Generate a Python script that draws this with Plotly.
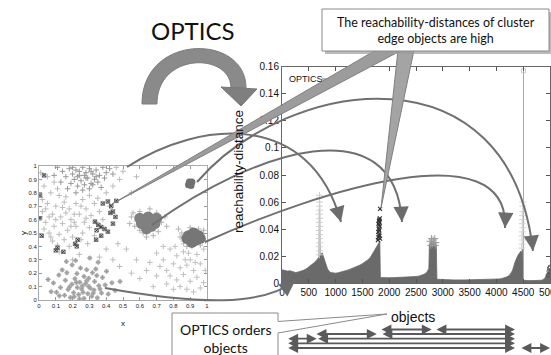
import plotly.graph_objects as go

W, H = 551, 355

# ---------------- left panel: 2-D objects (x, y) ----------------
tl_pts = [(0.18,0.98),(0.22,0.97),(0.26,0.99),(0.30,0.98),(0.34,0.97),(0.38,0.99),(0.20,0.94),(0.24,0.93),
          (0.28,0.95),(0.32,0.94),(0.36,0.93),(0.16,0.92),(0.21,0.90),(0.25,0.89),(0.29,0.91),(0.33,0.90),
          (0.27,0.86),(0.23,0.85),(0.31,0.87),(0.19,0.87),(0.35,0.88),(0.40,0.95),(0.42,0.98),(0.14,0.96),
          (0.11,0.99),(0.26,0.82),(0.30,0.83),(0.22,0.80),(0.17,0.83),(0.37,0.84),(0.24,0.96),(0.28,0.91),
          (0.32,0.86),(0.20,0.99),(0.13,0.88),(0.39,0.91),(0.44,0.94),(0.09,0.93),(0.27,0.93),(0.31,0.96),
          (0.23,0.92),(0.34,0.92)]
noise_pts = [(0.03,0.85),(0.07,0.80),(0.12,0.78),(0.05,0.72),(0.10,0.70),(0.15,0.73),(0.02,0.66),(0.08,0.64),
             (0.13,0.62),(0.18,0.68),(0.22,0.72),(0.26,0.75),(0.30,0.78),(0.04,0.58),(0.09,0.55),(0.14,0.57),
             (0.19,0.60),(0.24,0.64),(0.28,0.68),(0.33,0.72),(0.06,0.50),(0.12,0.49),(0.17,0.52),(0.22,0.55),
             (0.27,0.58),(0.31,0.63),(0.36,0.66),(0.08,0.44),(0.15,0.45),(0.20,0.47),(0.26,0.50),(0.30,0.54),
             (0.11,0.41),(0.18,0.40),(0.05,0.92),(0.09,0.88),(0.40,0.80),(0.35,0.76),(0.44,0.85),(0.48,0.90),
             (0.50,0.96),(0.46,0.99),(0.02,0.75),(0.16,0.65),(0.21,0.58),(0.25,0.45),(0.29,0.42),(0.33,0.48),
             (0.38,0.60),(0.12,0.36),(0.24,0.34),(0.20,0.30),(0.36,0.32),(0.40,0.38),(0.44,0.30),(0.48,0.25),
             (0.06,0.62),(0.11,0.83),(0.16,0.77),(0.04,0.68),(0.21,0.64),(0.25,0.70),(0.07,0.47),(0.03,0.53),
             (0.14,0.69),(0.52,0.38),(0.47,0.42),(0.55,0.80),(0.58,0.92),(0.01,0.95),(0.28,0.61),(0.34,0.58),
             (0.10,0.60),(0.19,0.55),(0.42,0.70)]
bl_pts = [(0.152,0.035),(0.187,0.018),(0.236,0.041),(0.268,0.012),(0.314,0.028),(0.347,0.016),(0.173,0.078),
          (0.206,0.055),(0.254,0.083),(0.291,0.047),(0.327,0.074),(0.372,0.052),(0.196,0.118),(0.228,0.094),
          (0.277,0.121),(0.305,0.088),(0.356,0.107),(0.214,0.158),(0.243,0.133),(0.296,0.162),(0.331,0.138),
          (0.226,0.197),(0.268,0.176),(0.318,0.204),(0.128,0.093),(0.394,0.112),(0.412,0.044),(0.104,0.058),
          (0.157,0.147),(0.166,0.203),(0.378,0.168),(0.247,0.238),(0.284,0.226),(0.197,0.262),(0.338,0.231),
          (0.086,0.127),(0.434,0.128),(0.453,0.071),(0.072,0.062),(0.118,0.186),(0.402,0.214),(0.352,0.281),
          (0.218,0.294),(0.054,0.153),(0.482,0.138),(0.302,0.313),(0.163,0.287),(0.262,0.057),(0.296,0.101),
          (0.223,0.131),(0.284,0.143),(0.241,0.008),(0.323,0.052),(0.182,0.097),(0.363,0.083),(0.138,0.224),
          (0.209,0.024),(0.258,0.104),(0.344,0.182),(0.121,0.031)]
right_pts = [(0.70,0.35),(0.74,0.30),(0.78,0.38),(0.82,0.33),(0.86,0.36),(0.90,0.30),(0.94,0.34),(0.98,0.38),
             (0.72,0.25),(0.76,0.22),(0.80,0.27),(0.84,0.24),(0.88,0.26),(0.92,0.22),(0.96,0.27),(0.78,0.18),
             (0.82,0.15),(0.86,0.19),(0.90,0.14),(0.94,0.17),(0.98,0.13),(0.84,0.10),(0.88,0.08),(0.92,0.06),
             (0.80,0.08),(0.96,0.09),(0.74,0.40),(0.86,0.42),(0.99,0.22),(0.76,0.12),(0.70,0.18),(0.66,0.28),
             (0.64,0.22),(0.60,0.16),(0.58,0.30),(0.68,0.10),(0.55,0.20),(0.81,0.40),(0.89,0.35),(0.93,0.28),
             (0.87,0.30),(0.91,0.40)]
blobA_halo = [(0.55,0.62),(0.57,0.55),(0.60,0.66),(0.62,0.50),(0.70,0.65),(0.73,0.58),(0.71,0.51),(0.66,0.68),
              (0.58,0.59),(0.54,0.57),(0.75,0.62),(0.68,0.48),(0.60,0.52),(0.64,0.47),(0.56,0.65),(0.76,0.55)]
blobA_core = [(0.65,0.58),(0.62,0.60),(0.68,0.60),(0.63,0.56),(0.67,0.55),(0.65,0.62),(0.61,0.57),(0.69,0.57),
              (0.64,0.53),(0.66,0.59),(0.70,0.61),(0.60,0.61)]
blobB_core = [(0.92,0.47),(0.89,0.48),(0.95,0.48),(0.90,0.45),(0.94,0.45),(0.92,0.50),(0.91,0.43),(0.93,0.49),
              (0.88,0.46),(0.96,0.46),(0.92,0.44)]
blobB_halo = [(0.85,0.50),(0.86,0.44),(0.98,0.52),(0.99,0.44),(0.90,0.54),(0.95,0.53),(0.88,0.40),(0.96,0.41),
              (0.84,0.47),(0.83,0.53)]
blobC_core = [(0.90,0.87),(0.89,0.86),(0.91,0.88),(0.905,0.855),(0.895,0.88)]
edge_pts = [(0.03,0.93),(0.006,0.78),(0.006,0.61),(0.016,0.48),(0.38,0.72),(0.41,0.735),(0.46,0.74),(0.43,0.70),
            (0.44,0.66),(0.425,0.65),(0.455,0.62),(0.44,0.57),(0.333,0.585),(0.353,0.56),(0.37,0.545),
            (0.39,0.53),(0.343,0.52),(0.37,0.48),(0.34,0.45),(0.41,0.51),(0.23,0.45),(0.215,0.42),(0.225,0.40),
            (0.11,0.39),(0.10,0.37),(0.145,0.36)]
unit_ticks = [0, 0.1, 0.2, 0.3, 0.4, 0.5, 0.6, 0.7, 0.8, 0.9, 1]
unit_labels = ["0", "0.1", "0.2", "0.3", "0.4", "0.5", "0.6", "0.7", "0.8", "0.9", "1"]

# ---------------- right panel: reachability plot ----------------
reach_obj = [0,50,100,150,200,250,300,350,400,450,500,550,600,650,690,700,712,750,800,850,900,950,1000,1050,
             1100,1150,1200,1250,1300,1350,1400,1450,1500,1550,1600,1650,1700,1750,1800,1825,1835,1900,1950,
             2000,2100,2200,2300,2400,2500,2550,2600,2650,2700,2740,2750,2800,2850,2880,2890,2950,3000,3200,
             3400,3600,3800,4000,4050,4100,4150,4200,4250,4300,4350,4400,4450,4490,4505,4550,4600,4700,4800,
             4850,4900,4950,4980,5000]
reach_val = [0.0100,0.0094,0.0090,0.0092,0.0085,0.0080,0.0083,0.0088,0.0096,0.0106,0.0120,0.0135,0.0152,0.0172,
             0.0195,0.0640,0.0205,0.0225,0.0170,0.0105,0.0080,0.0076,0.0075,0.0078,0.0082,0.0088,0.0095,0.0101,
             0.0108,0.0117,0.0125,0.0134,0.0145,0.0158,0.0173,0.0192,0.0225,0.0265,0.0300,0.0310,0.0042,0.0040,
             0.0040,0.0041,0.0042,0.0043,0.0045,0.0047,0.0050,0.0053,0.0058,0.0066,0.0080,0.0110,0.0290,0.0310,
             0.0305,0.0280,0.0030,0.0028,0.0027,0.0025,0.0025,0.0026,0.0027,0.0030,0.0032,0.0035,0.0040,0.0048,
             0.0062,0.0095,0.0160,0.0205,0.0235,0.0250,0.0022,0.0020,0.0020,0.0020,0.0021,0.0023,0.0035,0.0075,
             0.0105,0.0110]
spike1_obj = [695,705,695,705,695,705,695,705,695,705,695,705,700,700,700,700]
spike1_val = [0.021,0.024,0.027,0.030,0.033,0.036,0.039,0.042,0.045,0.048,0.051,0.054,0.057,0.060,0.063,0.065]
edge_obj = [1790,1800,1810,1820,1830,1795,1805,1815,1825,1800,1810,1820,1815,1825,1810,1830]
edge_val = [0.032,0.034,0.036,0.035,0.033,0.038,0.040,0.039,0.042,0.044,0.046,0.045,0.047,0.048,0.043,0.055]
block_obj = [2760,2790,2820,2850,2870,2775,2805,2835,2860]
block_val = [0.031,0.033,0.032,0.033,0.030,0.028,0.029,0.030,0.028]
spike3_obj = [4470,4480,4490,4475,4485,4495,4480,4490,4485,4495,4490,4492]
spike3_val = [0.026,0.029,0.032,0.035,0.038,0.041,0.044,0.047,0.050,0.053,0.057,0.060]
outlier_obj = [4505, 4505]
outlier_val = [0.0, 0.157]
tail_obj = [4965, 4980, 4990, 5000]
tail_val = [0.006, 0.009, 0.011, 0.012]
obj_ticks = [0, 500, 1000, 1500, 2000, 2500, 3000, 3500, 4000, 4500, 5000]
reach_ticks = [0, 0.02, 0.04, 0.06, 0.08, 0.10, 0.12, 0.14, 0.16]
reach_labels = ["0", "0.02", "0.04", "0.06", "0.08", "0.1", "0.12", "0.14", "0.16"]

# cluster-hierarchy arrows under the plot: (start object, end object, row)
hier_segments = [(1828, 2793, 0), (2854, 4347, 0),
                 (616, 1767, 1), (1847, 4347, 1),
                 (88, 647, 2), (647, 4347, 2),
                 (88, 4347, 3),
                 (88, 4347, 4), (4440, 5000, 4)]
hier_rows_px = [329.5, 334, 338.7, 343.3, 348]


def xs(pts):
    return [p[0] for p in pts]


def ys(pts):
    return [p[1] for p in pts]


def pt(x, y):
    return f"{x / W:.4f},{1 - y / H:.4f}"


fig = go.Figure()


def add_left(pts, color, symbol="cross-thin", size=4, lw=1, opacity=1.0):
    fig.add_trace(go.Scatter(x=xs(pts), y=ys(pts), mode="markers", xaxis="x", yaxis="y",
                             opacity=opacity,
                             marker=dict(symbol=symbol, size=size, color=color,
                                         line=dict(width=lw, color=color)),
                             showlegend=False, hoverinfo="skip"))


add_left(noise_pts, "#bcbcbc")
add_left(right_pts, "#c0c0c0")
add_left(blobA_halo, "#b3b3b3")
add_left(blobB_halo, "#b3b3b3")
add_left(bl_pts, "#b8b8b8", symbol="circle", size=4.5, lw=0)
add_left(bl_pts, "#9e9e9e", size=3.5)
add_left(tl_pts, "#9a9a9a")
add_left(blobA_core, "#808080", symbol="circle", size=11, lw=0)
add_left(blobB_core, "#767676", symbol="circle", size=11, lw=0)
add_left(blobC_core, "#707070", symbol="circle", size=7, lw=0)
add_left(edge_pts, "#2a2a2a", symbol="x-thin", size=3.5, lw=1)
add_left(edge_pts, "#555555", symbol="square-open", size=3.5, lw=0.8)

# reachability area
fig.add_trace(go.Scatter(x=reach_obj, y=reach_val, mode="lines", fill="tozeroy", xaxis="x2", yaxis="y2",
                         line=dict(color="#6a6a6a", width=0.8), fillcolor="#6a6a6a",
                         showlegend=False, hoverinfo="skip"))
fig.add_trace(go.Scatter(x=outlier_obj, y=outlier_val, mode="lines+markers", xaxis="x2", yaxis="y2",
                         line=dict(color="#a8a8a8", width=1),
                         marker=dict(symbol="square-open", size=[0, 4], color="#bbbbbb"),
                         showlegend=False, hoverinfo="skip"))
for ox, ov, col in [(spike1_obj, spike1_val, "#cfcfcf"), (block_obj, block_val, "#9a9a9a"),
                    (spike3_obj, spike3_val, "#d2d2d2")]:
    fig.add_trace(go.Scatter(x=ox, y=ov, mode="markers", xaxis="x2", yaxis="y2",
                             marker=dict(symbol="cross-thin", size=5, line=dict(width=1, color=col)),
                             showlegend=False, hoverinfo="skip"))
fig.add_trace(go.Scatter(x=edge_obj, y=edge_val, mode="markers", xaxis="x2", yaxis="y2",
                         marker=dict(symbol="x-thin", size=4, line=dict(width=1.2, color="#333333")),
                         showlegend=False, hoverinfo="skip"))
fig.add_trace(go.Scatter(x=tail_obj, y=tail_val, mode="markers", xaxis="x2", yaxis="y2",
                         marker=dict(symbol="circle-open", size=4, color="#555555"),
                         showlegend=False, hoverinfo="skip"))

axfont_l = dict(family="Liberation Sans", size=6, color="#222")
axfont_r = dict(family="Liberation Sans", size=10, color="#111")

common = dict(showgrid=False, zeroline=False, automargin=False, showline=True, mirror="allticks", ticks="inside")

fig.update_layout(
    template="none",
    width=W, height=H, margin=dict(l=0, r=0, t=0, b=0, pad=0), autosize=False,
    paper_bgcolor="white", plot_bgcolor="white",
    xaxis=dict(domain=[39 / W, 207 / W], range=[0, 1], tickvals=unit_ticks, ticktext=unit_labels,
               ticklen=3, tickcolor="#999", linecolor="#aaa", tickfont=axfont_l, anchor="y", **common),
    yaxis=dict(domain=[1 - 300 / H, 1 - 166 / H], range=[0, 1], tickvals=unit_ticks, ticktext=unit_labels,
               ticklen=3, tickcolor="#999", linecolor="#aaa", tickfont=axfont_l, anchor="x", **common),
    xaxis2=dict(domain=[282 / W, 550 / W], range=[0, 5000], tickvals=obj_ticks,
                ticklen=4, tickcolor="#555", linecolor="#666", tickfont=axfont_r, anchor="y2",
                ticklabeloverflow="allow", **common),
    yaxis2=dict(domain=[1 - 283.3 / H, 1 - 66.7 / H], range=[0, 0.16], tickvals=reach_ticks, ticktext=reach_labels,
                ticklen=4, tickcolor="#555", linecolor="#666", tickfont=axfont_r, anchor="x2", **common),
)

shapes = []
ann = []


def text_at(text, x, y, size, family="Liberation Sans", angle=0, xanchor="center"):
    ann.append(dict(text=text, x=x / W, y=1 - y / H, xref="paper", yref="paper", showarrow=False,
                    xanchor=xanchor, yanchor="middle", textangle=angle, align="center",
                    font=dict(family=family, size=size, color="#111")))


# big curved arrow under "OPTICS"
shapes.append(dict(type="path", xref="paper", yref="paper", layer="above",
                   path=f"M {pt(142,104)} C {pt(142,33)} {pt(246,33)} {pt(246,88)} L {pt(231,88)} "
                        f"C {pt(231,52)} {pt(157,52)} {pt(157,104)} Z",
                   fillcolor="#8a8a8a", line=dict(color="#7c7c7c", width=1)))
shapes.append(dict(type="path", xref="paper", yref="paper", layer="above",
                   path=f"M {pt(221,87)} L {pt(257,89)} L {pt(241,106)} Z",
                   fillcolor="#7f7f7f", line=dict(color="#777", width=1)))

# legend of reachability plot
shapes.append(dict(type="line", xref="paper", yref="paper", layer="above",
                   x0=322 / W, x1=340 / W, y0=1 - 79 / H, y1=1 - 79 / H, line=dict(color="#777", width=1)))
text_at("OPTICS", 287, 79, 9, xanchor="left")

# leader curves from clusters to reachability valleys
curves = [
    ((127, 167), (200, 120), (310, 110), (341, 222)),
    ((197, 182), (290, 75), (510, 45), (533, 251)),
    ((152, 225), (255, 150), (395, 105), (402, 222)),
    ((205, 242), (320, 190), (510, 130), (505, 228)),
    ((105, 288), (200, 305), (262, 306), (295, 281)),
]
for p0, p1, p2, p3 in curves:
    shapes.append(dict(type="path", xref="paper", yref="paper", layer="above",
                       path=f"M {pt(*p0)} C {pt(*p1)} {pt(*p2)} {pt(*p3)}",
                       line=dict(color="#707070", width=2)))
    dx, dy = p3[0] - p2[0], p3[1] - p2[1]
    n = (dx * dx + dy * dy) ** 0.5
    ann.append(dict(text="", x=p3[0] / W, y=1 - p3[1] / H, xref="paper", yref="paper",
                    ax=-dx / n * 10, ay=-dy / n * 10, showarrow=True, arrowhead=2, arrowsize=1.4,
                    arrowwidth=2.2, arrowcolor="#6c6c6c"))

# callout 1 wedges + box
shapes.append(dict(type="path", xref="paper", yref="paper", layer="above",
                   path=f"M {pt(376,50)} L {pt(402,50)} L {pt(112,204)} Z",
                   fillcolor="#9c9c9c", line=dict(color="#808080", width=1)))
shapes.append(dict(type="path", xref="paper", yref="paper", layer="above",
                   path=f"M {pt(398,50)} L {pt(414,50)} L {pt(381,208)} Z",
                   fillcolor="#a4a4a4", line=dict(color="#808080", width=1)))
shapes.append(dict(type="rect", xref="paper", yref="paper", layer="above",
                   x0=325 / W, x1=553 / W, y0=1 - 54 / H, y1=1 - 12 / H,
                   fillcolor="#9c9c9c", line=dict(width=0), opacity=0.7))
shapes.append(dict(type="rect", xref="paper", yref="paper", layer="above",
                   x0=322 / W, x1=549 / W, y0=1 - 51 / H, y1=1 - 9 / H,
                   fillcolor="white", line=dict(color="#8a8a8a", width=1)))
text_at("The reachability-distances of cluster<br>edge objects are high", 436, 31, 12.5, family="Lato")

# callout 2 box + wedge
shapes.append(dict(type="rect", xref="paper", yref="paper", layer="above",
                   x0=172 / W, x1=278 / W, y0=1 - 362 / H, y1=1 - 313 / H,
                   fillcolor="white", line=dict(color="#8a8a8a", width=1)))
shapes.append(dict(type="path", xref="paper", yref="paper", layer="above",
                   path=f"M {pt(276.5,321.5)} L {pt(387,314)} L {pt(276.5,333)} Z",
                   fillcolor="white", line=dict(color="white", width=1)))
shapes.append(dict(type="path", xref="paper", yref="paper", layer="above",
                   path=f"M {pt(278,321.5)} L {pt(387,314)} L {pt(278,333)}",
                   line=dict(color="#8a8a8a", width=1)))
text_at("OPTICS orders<br>objects", 225, 338, 14, family="Lato")

# hierarchy arrows
for s, e, r in hier_segments:
    ann.append(dict(text="", x=e, y=1 - hier_rows_px[r] / H, xref="x2", yref="paper",
                    ax=s, axref="x2", ay=0, ayref="pixel", showarrow=True, arrowside="end+start",
                    arrowhead=2, startarrowhead=2, arrowsize=1.1, startarrowsize=1.1,
                    arrowwidth=1.8, arrowcolor="#5a5a5a"))

# texts
text_at("OPTICS", 193, 30, 24, family="Lato")
text_at("reachability-distance", 238, 172, 13.5, angle=-90)
text_at("objects", 413, 317, 14)
text_at("x", 123, 323, 8)
text_at("y", 23, 233, 8, angle=-90)

fig.update_layout(shapes=shapes, annotations=ann)
fig.write_html("out.html", config={"displayModeBar": False, "staticPlot": True},
               post_script="document.body.style.margin='0px';")
